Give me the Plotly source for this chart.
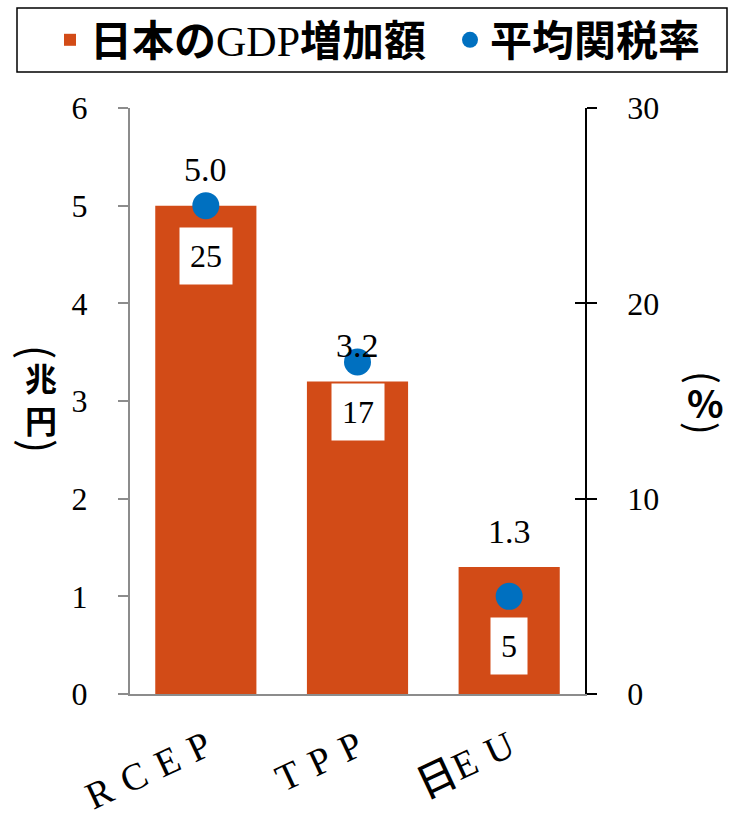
import plotly.graph_objects as go

# --- data -------------------------------------------------------------
categories = ["RCEP", "TPP", "日EU"]
gdp_increase = [5.0, 3.2, 1.3]        # 兆円 (left axis)
avg_tariff = [25, 17, 5]              # % (right axis)

gdp_name = "日本のGDP増加額"
tariff_name = "平均関税率"

# --- styling ----------------------------------------------------------
ORANGE = "#D24B17"
BLUE = "#0070C0"
GREY = "#8C8C8C"
SERIF = "Liberation Serif"
GOTHIC = "Noto Sans CJK JP"

# plot area in pixels
W, H = 732, 825
ML, MR, MT, MB = 130, 147, 108, 131
PW, PH = W - ML - MR, H - MT - MB


def px_x(p):
    return (p - ML) / PW


def px_y(p):
    return (H - MB - p) / PH


def spaced(label):
    """Tick text with letters spread out; CJK glyphs in bold."""
    parts = []
    for ch in label:
        parts.append(ch if ch.isascii() else f"<b>{ch}</b>")
    return "\u2004".join(parts).replace("</b>\u2004", "</b>")


fig = go.Figure()

fig.add_bar(
    x=categories,
    y=gdp_increase,
    name=f"<b>日本の</b><span style='font-family:{SERIF}'>GDP</span><b>増加額</b>",
    marker=dict(color=ORANGE, line=dict(width=0)),
    yaxis="y",
    legend="legend",
)

fig.add_scatter(
    x=categories,
    y=avg_tariff,
    mode="markers",
    name=f"<b>{tariff_name}</b>",
    marker=dict(color=BLUE, size=27),
    yaxis="y2",
    legend="legend2",
)

# carrier for the inward ticks on the right axis
fig.add_scatter(x=[], y=[], yaxis="y3", showlegend=False, hoverinfo="skip")

annotations = []
for cat, v in zip(categories, gdp_increase):
    annotations.append(dict(
        x=cat, y=v, xref="x", yref="y", text=f"{v:.1f}",
        showarrow=False, yshift=36,
        font=dict(family=SERIF, size=34, color="black"),
    ))
for cat, t in zip(categories, avg_tariff):
    annotations.append(dict(
        x=cat, y=t, xref="x", yref="y2", text=f"{t}",
        showarrow=False, yshift=-50, bgcolor="white", borderpad=10,
        font=dict(family=SERIF, size=32, color="black"),
    ))


def title_glyph(cx, cy, text, size, angle=0):
    return dict(
        x=px_x(cx), y=px_y(cy), xref="paper", yref="paper",
        text=text, textangle=angle, showarrow=False,
        xanchor="center", yanchor="middle",
        font=dict(family=GOTHIC, size=size, color="black"),
    )


# left title (兆円), written vertically with arc parentheses
annotations += [
    title_glyph(40, 352, "(", 42, 90),
    title_glyph(41, 398, "<b>兆<br>円</b>", 32),
    title_glyph(40, 446, ")", 42, 90),
]
# right title (%)
annotations += [
    title_glyph(705, 377, "(", 38, 90),
    title_glyph(705, 401, "<b>%</b>", 38),
    title_glyph(705, 428, ")", 38, 90),
]

tick_font = dict(family=SERIF, size=32, color="black")

fig.update_layout(
    width=W, height=H,
    margin=dict(l=ML, r=MR, t=MT, b=MB, pad=0, autoexpand=False),
    paper_bgcolor="white", plot_bgcolor="white",
    bargap=0.333,
    xaxis=dict(
        type="category",
        tickvals=categories,
        ticktext=[spaced(c) for c in categories],
        tickangle=-25,
        tickfont=dict(family=SERIF, size=38, color="black"),
        showline=True, linecolor=GREY, linewidth=2,
        ticks="", showgrid=False, zeroline=False,
        range=[-0.5, 2.5],
        ticklabelstandoff=14, automargin=False,
    ),
    yaxis=dict(
        range=[0, 6], dtick=1,
        showline=True, linecolor=GREY, linewidth=2,
        ticks="outside", ticklen=10, tickcolor=GREY, tickwidth=2,
        tickfont=tick_font, ticklabelstandoff=24,
        showgrid=False, zeroline=False, automargin=False,
    ),
    yaxis2=dict(
        range=[0, 30], dtick=10, overlaying="y", side="right",
        showline=True, linecolor="black", linewidth=1.5,
        ticks="outside", ticklen=10, tickcolor="black", tickwidth=1.5,
        tickfont=tick_font, ticklabelstandoff=24,
        showgrid=False, zeroline=False, automargin=False,
    ),
    yaxis3=dict(
        range=[0, 30], dtick=10, overlaying="y", side="right",
        showline=False, ticks="inside", ticklen=10,
        tickcolor="black", tickwidth=1.5,
        showticklabels=False, showgrid=False, zeroline=False,
        automargin=False,
    ),
    legend=dict(
        x=px_x(50), y=px_y(40), xanchor="left", yanchor="middle",
        orientation="h", bgcolor="rgba(0,0,0,0)", borderwidth=0,
        font=dict(family=GOTHIC, size=42, color="black"),
    ),
    legend2=dict(
        x=px_x(450), y=px_y(40), xanchor="left", yanchor="middle",
        orientation="h", bgcolor="rgba(0,0,0,0)", borderwidth=0,
        font=dict(family=GOTHIC, size=42, color="black"),
    ),
    annotations=annotations,
    shapes=[dict(
        type="rect", xref="paper", yref="paper",
        x0=px_x(17), x1=px_x(727), y0=px_y(72), y1=px_y(8),
        line=dict(color="black", width=1.5), fillcolor="rgba(0,0,0,0)",
    )],
    showlegend=True,
)

fig.write_html("out.html")
